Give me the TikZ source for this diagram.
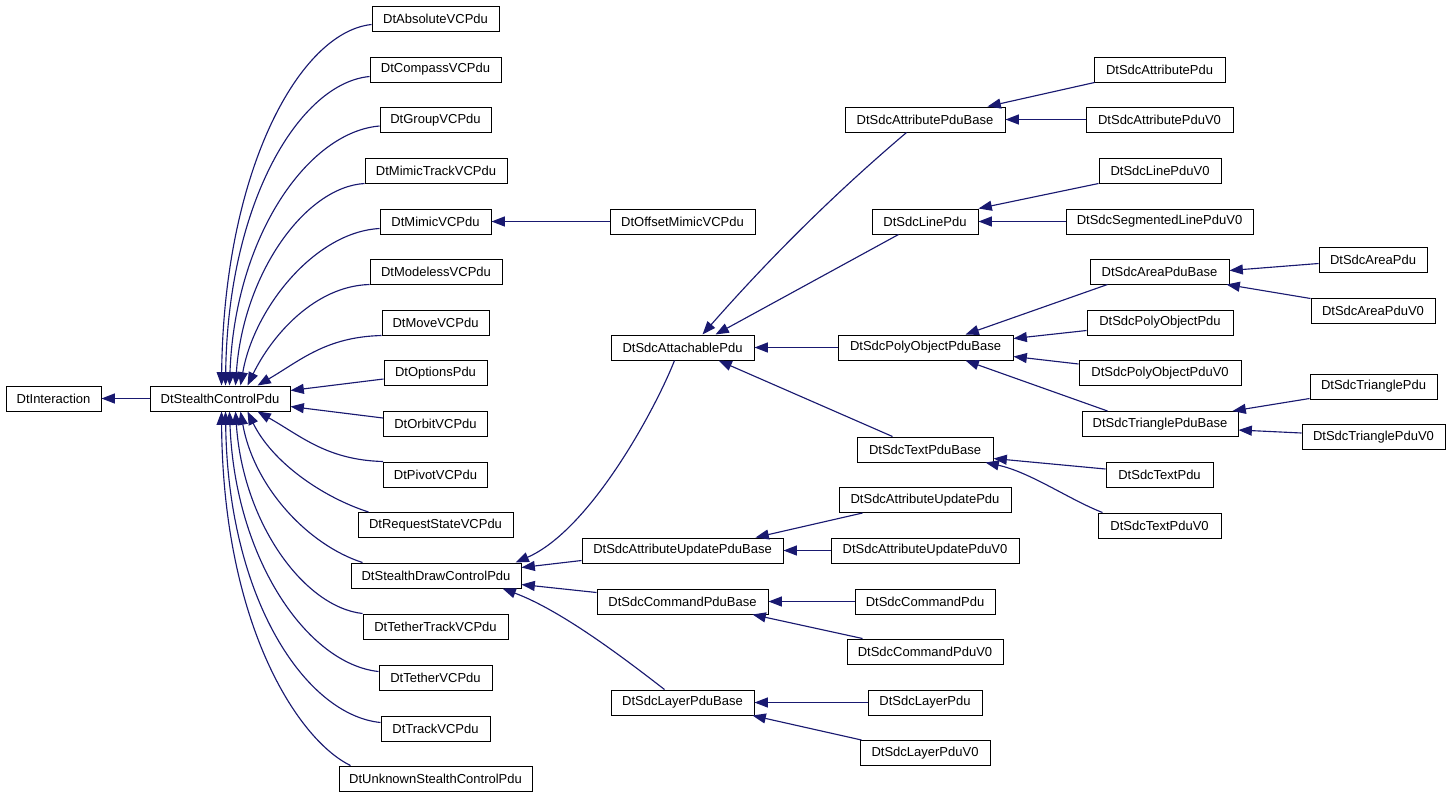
\documentclass[tikz,border=0pt]{standalone}
\usepackage{fontspec}
\setmainfont{Liberation Sans}
\usetikzlibrary{arrows.meta,calc}
\definecolor{edgeblue}{RGB}{25,25,112}
\tikzset{
  cbox/.style={draw=black, line width=0.75pt, fill=white, inner sep=0pt,
    minimum height=18.75pt, font=\fontsize{9.75pt}{11pt}\selectfont},
  edge/.style={draw=edgeblue, line width=0.85pt,
    -{Triangle[length=10pt,width=7.5pt]}}
}
\newcommand{\cls}[5]{\node[cbox,minimum width=#4*0.75pt] (#1) at (#2,#3) {#5};}
\begin{document}
\begin{tikzpicture}[x=0.75pt,y=-0.75pt]
\useasboundingbox (0,0) rectangle (1451,797);
% rank 1-2
\cls{inter}{53.5}{398.5}{95}{DtInteraction}
\cls{scp}{220}{398.5}{140}{DtStealthControlPdu}
% rank 3
\cls{abs}{435.5}{18.5}{127}{DtAbsoluteVCPdu}
\cls{comp}{435.5}{69.5}{131}{DtCompassVCPdu}
\cls{grp}{435.5}{120}{111}{DtGroupVCPdu}
\cls{mtrk}{436}{170.5}{142}{DtMimicTrackVCPdu}
\cls{mim}{435.5}{221.5}{111}{DtMimicVCPdu}
\cls{mdl}{436}{271.5}{132}{DtModelessVCPdu}
\cls{mov}{435.5}{322.5}{107}{DtMoveVCPdu}
\cls{opt}{435.5}{373}{103}{DtOptionsPdu}
\cls{orb}{435.5}{424}{104}{DtOrbitVCPdu}
\cls{piv}{435.5}{474.5}{104}{DtPivotVCPdu}
\cls{req}{435.5}{525}{155}{DtRequestStateVCPdu}
\cls{sdraw}{436}{575.5}{170}{DtStealthDrawControlPdu}
\cls{ttrk}{435.5}{626.5}{145}{DtTetherTrackVCPdu}
\cls{teth}{435.5}{677.5}{113}{DtTetherVCPdu}
\cls{trk}{435.5}{728.5}{109}{DtTrackVCPdu}
\cls{unk}{435.5}{778.5}{193}{DtUnknownStealthControlPdu}
% rank 4
\cls{offm}{682.5}{221.5}{145}{DtOffsetMimicVCPdu}
\cls{att}{682.5}{347.5}{143}{DtSdcAttachablePdu}
\cls{aub}{682.5}{550.5}{201}{DtSdcAttributeUpdatePduBase}
\cls{cmb}{682.5}{601.5}{171}{DtSdcCommandPduBase}
\cls{lyb}{682.5}{702.5}{143}{DtSdcLayerPduBase}
% rank 5
\cls{atb}{925}{119.5}{160}{DtSdcAttributePduBase}
\cls{line}{925}{221.5}{106}{DtSdcLinePdu}
\cls{pob}{925.5}{347.5}{175}{DtSdcPolyObjectPduBase}
\cls{txb}{925}{449.5}{136}{DtSdcTextPduBase}
\cls{aup}{925}{500}{172}{DtSdcAttributeUpdatePdu}
\cls{auv}{925}{550.5}{188}{DtSdcAttributeUpdatePduV0}
\cls{cmp}{925}{601.5}{140}{DtSdcCommandPdu}
\cls{cmv}{925}{651.5}{156}{DtSdcCommandPduV0}
\cls{lyp}{925}{702.5}{114}{DtSdcLayerPdu}
\cls{lyv}{925}{753}{130}{DtSdcLayerPduV0}
% rank 6
\cls{atp}{1159.5}{69.5}{131}{DtSdcAttributePdu}
\cls{atv}{1159.5}{119.5}{147}{DtSdcAttributePduV0}
\cls{lv0}{1160}{170.5}{122}{DtSdcLinePduV0}
\cls{seg}{1159.5}{221.5}{187}{DtSdcSegmentedLinePduV0}
\cls{arb}{1159.5}{271.5}{139}{DtSdcAreaPduBase}
\cls{pop}{1160}{322.5}{146}{DtSdcPolyObjectPdu}
\cls{pov}{1160}{373}{162}{DtSdcPolyObjectPduV0}
\cls{trb}{1160}{424}{156}{DtSdcTrianglePduBase}
\cls{txp}{1159.5}{475}{107}{DtSdcTextPdu}
\cls{txv}{1159.5}{525.5}{123}{DtSdcTextPduV0}
% rank 7
\cls{arp}{1373}{259.5}{108}{DtSdcAreaPdu}
\cls{arv}{1373}{310.5}{124}{DtSdcAreaPduV0}
\cls{trp}{1373.5}{386.5}{127}{DtSdcTrianglePdu}
\cls{trv}{1373.5}{437}{143}{DtSdcTrianglePduV0}

% edges to DtInteraction / DtMimicVCPdu
\draw[edge] (scp.west) -- (inter.east);
\draw[edge] (offm.west) -- (mim.east);

% edges to DtStealthControlPdu (upper)
\draw[edge] ($(abs.west)+(0,6)$) .. controls (300,32) and (224,169) .. ($(scp.north west)+(72,0)$);
\draw[edge] ($(comp.west)+(0,7)$) .. controls (300,83) and (228,201) .. ($(scp.north west)+(76,0)$);
\draw[edge] ($(grp.west)+(0,6)$) .. controls (308,132) and (235,236) .. ($(scp.north west)+(80,0)$);
\draw[edge] (mtrk.south west) .. controls (305,187) and (243,274) .. ($(scp.north west)+(86,0)$);
\draw[edge] ($(mim.west)+(0,7)$) .. controls (315,232) and (254,308) .. ($(scp.north west)+(91,0)$);
\draw[edge] (mdl.south west) .. controls (315,286) and (272,335) .. ($(scp.north west)+(98,0)$);
\draw[edge] (mov.south west) .. controls (326,337) and (301,360) .. ($(scp.north west)+(108,0)$);
\draw[edge] ($(opt.west)+(0,6)$) -- ($(scp.east)+(0,-8)$);
\draw[edge] ($(orb.west)+(0,-6)$) -- ($(scp.east)+(0,8)$);
% edges to DtStealthControlPdu (lower)
\draw[edge] (piv.north west) .. controls (327,460) and (301,436) .. ($(scp.south west)+(108,0)$);
\draw[edge] ($(req.north west)+(11,0)$) .. controls (322,497) and (272,462) .. ($(scp.south west)+(98,0)$);
\draw[edge] ($(sdraw.north west)+(12,0)$) .. controls (308,545) and (254,487) .. ($(scp.south west)+(91,0)$);
\draw[edge] (ttrk.north west) .. controls (304,607) and (243,523) .. ($(scp.south west)+(86,0)$);
\draw[edge] ($(teth.west)+(0,-6)$) .. controls (308,664) and (235,560) .. ($(scp.south west)+(80,0)$);
\draw[edge] ($(trk.west)+(0,-6)$) .. controls (306,715) and (228,600) .. ($(scp.south west)+(76,0)$);
\draw[edge] ($(unk.north west)+(12,0)$) .. controls (298,740) and (223,625) .. ($(scp.south west)+(72,0)$);

% edges to DtStealthDrawControlPdu
\draw[edge] ($(att.south west)+(64,0)$) .. controls (655,410) and (590,530) .. ($(sdraw.north east)+(-6,0)$);
\draw[edge] ($(aub.west)+(0,10)$) -- ($(sdraw.east)+(0,-8)$);
\draw[edge] ($(cmb.west)+(0,-9)$) -- ($(sdraw.east)+(0,9)$);
\draw[edge] ($(lyb.north west)+(54,0)$) .. controls (620,655) and (560,610) .. ($(sdraw.south east)+(-19,0)$);

% edges to DtSdcAttachablePdu
\draw[edge] ($(atb.south west)+(62,0)$) .. controls (860,172) and (790,235) .. ($(att.north)+(20,0)$);
\draw[edge] ($(line.south west)+(27,0)$) -- ($(att.north)+(33,0)$);
\draw[edge] (pob.west) -- (att.east);
\draw[edge] ($(txb.north west)+(36,0)$) -- ($(att.south)+(36,0)$);

% rank 4 bases
\draw[edge] ($(aup.south west)+(24,0)$) -- ($(aub.north east)+(-28,0)$);
\draw[edge] (auv.west) -- (aub.east);
\draw[edge] (cmp.west) -- (cmb.east);
\draw[edge] ($(cmv.north west)+(16,0)$) -- ($(cmb.south east)+(-16,0)$);
\draw[edge] (lyp.west) -- (lyb.east);
\draw[edge] ($(lyv.north west)+(2,0)$) -- ($(lyb.south east)+(-2,0)$);

% rank 5
\draw[edge] ($(atp.south west)+(1,0)$) -- ($(atb.north east)+(-18,0)$);
\draw[edge] (atv.west) -- (atb.east);
\draw[edge] (lv0.south west) -- (line.north east);
\draw[edge] (seg.west) -- (line.east);
\draw[edge] ($(arb.south west)+(18,0)$) -- ($(pob.north east)+(-48,0)$);
\draw[edge] ($(pop.west)+(0,8)$) -- ($(pob.east)+(0,-9)$);
\draw[edge] ($(pov.west)+(0,-9)$) -- ($(pob.east)+(0,9)$);
\draw[edge] ($(trb.north west)+(26,0)$) -- ($(pob.south east)+(-48,0)$);
\draw[edge] ($(txp.west)+(0,-6)$) -- ($(txb.east)+(0,9)$);
\draw[edge] ($(txv.north west)+(5,0)$) .. controls (1070,500) and (1030,472) .. ($(txb.south east)+(-8,0)$);

% rank 6
\draw[edge] ($(arp.west)+(0,4)$) -- ($(arb.east)+(0,-1)$);
\draw[edge] ($(arv.north west)+(0,1)$) -- ($(arb.south east)+(-3,0)$);
\draw[edge] ($(trp.south west)+(0,-1)$) -- ($(trb.north east)+(-6,0)$);
\draw[edge] ($(trv.west)+(0,-4)$) -- ($(trb.east)+(0,6)$);
\end{tikzpicture}
\end{document}
